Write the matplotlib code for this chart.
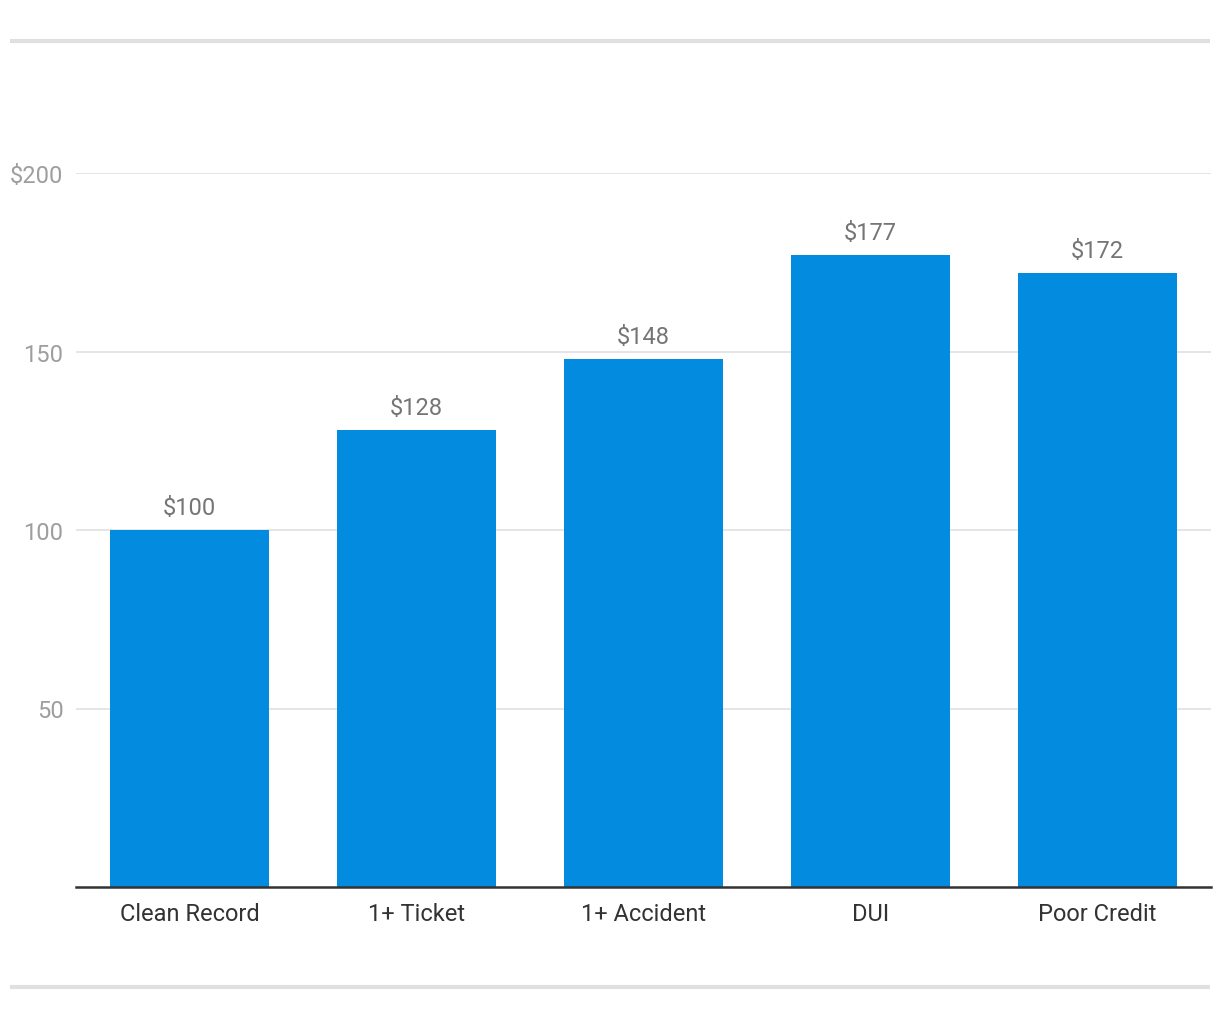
import numpy as np
import matplotlib.pyplot as plt
from matplotlib.lines import Line2D

# данные
categories = ['Clean Record', '1+ Ticket', '1+ Accident', 'DUI', 'Poor Credit']
values = [100, 128, 148, 177, 172]
yticks = [50, 100, 150, 200]
ytick_labels = ['50', '100', '150', '$200']

plt.rcParams['font.family'] = ['Roboto', 'DejaVu Sans']

fig = plt.figure(figsize=(12.2, 10.2), dpi=100)
W, H = 1220, 1020
# оси в пикселях: x 76..1210, y 174 (200) .. 888 (0)
ax = fig.add_axes([76 / W, (H - 888) / H, (1211 - 76) / W, (888 - 174) / H])

x = np.arange(len(categories)) + 0.5
ax.bar(x, values, width=0.70, color='#038BDF', zorder=2)

for xi, v in zip(x, values):
    ax.annotate('$' + str(v), (xi, v), xytext=(0, 8), textcoords='offset points',
                ha='center', va='bottom', fontsize=17, color='#757575')

ax.set_xlim(0, len(categories))
ax.set_ylim(0, 200)
ax.set_xticks(x)
ax.set_xticklabels(categories, fontsize=17, color='#333333')
ax.set_yticks(yticks)
ax.set_yticklabels(ytick_labels, fontsize=17, color='#9e9e9e')
ax.tick_params(axis='both', length=0)
ax.tick_params(axis='x', pad=10.5)
ax.tick_params(axis='y', pad=9)
ax.grid(axis='y', color='#e0e0e0', linewidth=1.2, zorder=0)
for s in ['top', 'right', 'left']:
    ax.spines[s].set_visible(False)
ax.spines['bottom'].set_color('#333333')
ax.spines['bottom'].set_linewidth(1.8)
ax.spines['bottom'].set_zorder(3)

# серые линии сверху и снизу
for yy in [42, 988]:
    fig.add_artist(Line2D([10 / W, 1210 / W], [(H - yy) / H] * 2,
                          color='#e0e0e0', linewidth=3, solid_capstyle='butt',
                          transform=fig.transFigure))

fig.savefig('out.png', dpi=100, facecolor='white')
